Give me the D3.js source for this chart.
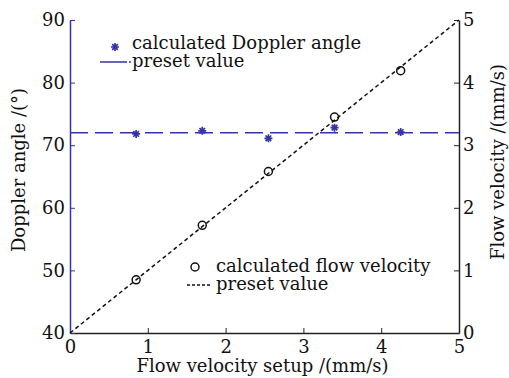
<!DOCTYPE html>
<html>
<head>
<meta charset="utf-8">
<script src="https://cdn.jsdelivr.net/npm/d3@7"></script>
<style>
  body { margin: 0; background: #fff; }
  svg text { font-family: "DejaVu Serif", "Liberation Serif", serif; fill: #111; }
</style>
</head>
<body>
<svg id="chart" width="509" height="378"></svg>
<script>
const setupVelocity = [0.85, 1.7, 2.55, 3.4, 4.25];
const dopplerAngle = [71.8, 72.3, 71.1, 72.8, 72.1];
const flowVelocity = [0.85, 1.72, 2.58, 3.45, 4.19];
const presetAngle = 72;
const presetLine = [0, 5];
const xTicks = [0, 1, 2, 3, 4, 5];
const angleTicks = [40, 50, 60, 70, 80, 90];
const velTicks = [0, 1, 2, 3, 4, 5];

const svg = d3.select("#chart");
const margin = { top: 20, right: 50, bottom: 45, left: 70 };
const width = 509, height = 378;
const innerW = width - margin.left - margin.right;
const innerH = height - margin.top - margin.bottom;
const blue = "#3434a8";
const fs = 18;

const g = svg.append("g").attr("transform", `translate(${margin.left},${margin.top})`);

const x = d3.scaleLinear().domain([0, 5]).range([0, innerW]);
const yA = d3.scaleLinear().domain([40, 90]).range([innerH, 0]);
const yV = d3.scaleLinear().domain([0, 5]).range([innerH, 0]);

// axes
const fmt = d3.format("d");
const xAxis = g.append("g").attr("transform", `translate(0,${innerH})`)
  .call(d3.axisBottom(x).tickValues(xTicks).tickFormat(fmt).tickSizeInner(-5).tickSizeOuter(0).tickPadding(7));
const yAxisL = g.append("g")
  .call(d3.axisLeft(yA).tickValues(angleTicks).tickFormat(fmt).tickSizeInner(-5).tickSizeOuter(0).tickPadding(5));
const yAxisR = g.append("g").attr("transform", `translate(${innerW},0)`)
  .call(d3.axisRight(yV).tickValues(velTicks).tickFormat(fmt).tickSizeInner(-5).tickSizeOuter(0).tickPadding(4));

[xAxis, yAxisL, yAxisR].forEach((a) => {
  a.selectAll("text").style("font-family", "DejaVu Serif").style("font-size", fs + "px").attr("fill", "#111");
});
xAxis.select(".domain").attr("stroke", "#222").attr("stroke-width", 1.5);
xAxis.selectAll("line").attr("stroke", "#222");
yAxisR.select(".domain").attr("stroke", "#222").attr("stroke-width", 1.5);
yAxisR.selectAll("line").attr("stroke", "#222");
yAxisL.select(".domain").attr("stroke", blue).attr("stroke-width", 1.5);
yAxisL.selectAll("line").attr("stroke", blue);

// preset angle line
g.append("line")
  .attr("x1", x(0)).attr("x2", x(5))
  .attr("y1", yA(presetAngle)).attr("y2", yA(presetAngle))
  .attr("stroke", blue).attr("stroke-width", 1.5).attr("stroke-dasharray", "18,7");

// preset velocity diagonal
g.append("line")
  .attr("x1", x(presetLine[0])).attr("y1", yV(presetLine[0]))
  .attr("x2", x(presetLine[1])).attr("y2", yV(presetLine[1]))
  .attr("stroke", "#111").attr("stroke-width", 1.5).attr("stroke-dasharray", "4,3");

function star(s) {
  const d = s * 0.7;
  return `M${-s},0L${s},0M0,${-s}L0,${s}M${-d},${-d}L${d},${d}M${-d},${d}L${d},${-d}`;
}

g.selectAll(".star").data(setupVelocity).join("path")
  .attr("class", "star")
  .attr("transform", (d, i) => `translate(${x(d)},${yA(dopplerAngle[i])})`)
  .attr("d", star(4)).attr("stroke", blue).attr("stroke-width", 1.7).attr("fill", "none");

g.selectAll(".circ").data(setupVelocity).join("circle")
  .attr("class", "circ")
  .attr("cx", (d) => x(d)).attr("cy", (d, i) => yV(flowVelocity[i]))
  .attr("r", 4).attr("fill", "none").attr("stroke", "#111").attr("stroke-width", 1.5);

// legend 1
svg.append("path").attr("transform", "translate(115,47)").attr("d", star(4))
  .attr("stroke", blue).attr("stroke-width", 1.7);
svg.append("text").attr("x", 132).attr("y", 49).attr("font-size", fs).text("calculated Doppler angle");
svg.append("line").attr("x1", 100).attr("x2", 131).attr("y1", 62).attr("y2", 62)
  .attr("stroke", blue).attr("stroke-width", 1.5).attr("stroke-dasharray", "27,2");
svg.append("text").attr("x", 132).attr("y", 67).attr("font-size", fs).text("preset value");

// legend 2
svg.append("circle").attr("cx", 195).attr("cy", 267).attr("r", 4)
  .attr("fill", "none").attr("stroke", "#111").attr("stroke-width", 1.5);
svg.append("text").attr("x", 216).attr("y", 272).attr("font-size", fs).text("calculated flow velocity");
svg.append("line").attr("x1", 187).attr("x2", 211).attr("y1", 285).attr("y2", 285)
  .attr("stroke", "#111").attr("stroke-width", 1.5).attr("stroke-dasharray", "3,2");
svg.append("text").attr("x", 216).attr("y", 290).attr("font-size", fs).text("preset value");

// axis labels
svg.append("text").attr("x", margin.left + innerW / 2 - 2).attr("y", 372)
  .attr("text-anchor", "middle").attr("font-size", fs).text("Flow velocity setup /(mm/s)");
svg.append("text").attr("transform", "translate(25,170) rotate(-90)")
  .attr("text-anchor", "middle").attr("font-size", fs).text("Doppler angle /(°)");
svg.append("text").attr("transform", "translate(504,162) rotate(-90)")
  .attr("text-anchor", "middle").attr("font-size", fs).text("Flow velocity /(mm/s)");
</script>
</body>
</html>
